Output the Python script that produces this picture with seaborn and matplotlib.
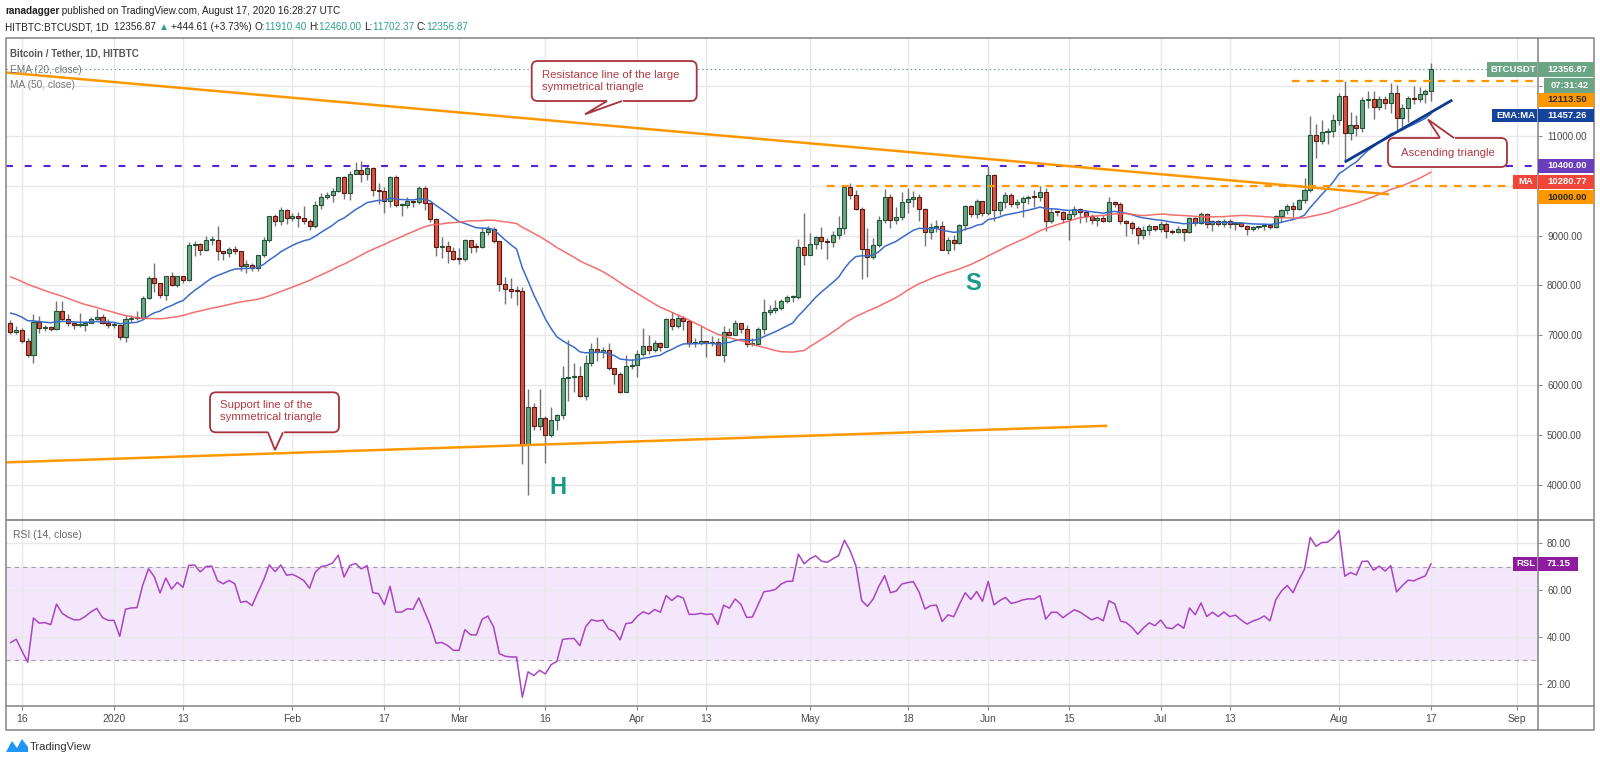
import numpy as np
import pandas as pd
import matplotlib
matplotlib.use("Agg")
import matplotlib.pyplot as plt
from matplotlib.patches import Rectangle, FancyBboxPatch, Polygon
import seaborn as sns

# -----------------------------
# Data: HITBTC BTC/USDT daily candles
# -----------------------------
# closes before the visible window (Oct 26 - Dec 13 2019), only used to warm up EMA / MA / RSI
warmup_close = [9250, 9550, 9250, 9430, 9200, 9150,
                9250, 9310, 9180, 9400, 9310, 9340, 9200, 8770, 8810, 9040,
                8730, 8820, 8760, 8630, 8460, 8490, 8500, 8180, 8120, 8080,
                7620, 7280, 7320, 6910, 7150, 7170, 7510, 7420, 7740, 7570,
                7420, 7320, 7320, 7250, 7450, 7550, 7510, 7540, 7390, 7230, 7220, 7240, 7250]

first_day = "2019-12-14"

close_dec = [7070, 7110, 6880, 6610, 7260, 7150, 7160, 7120, 7490, 7320, 7250, 7200, 7200, 7250, 7320, 7370, 7240, 7200]
high_dec = [7310, 7180, 7140, 6940, 7430, 7380, 7200, 7180, 7680, 7680, 7420, 7270, 7440, 7280, 7360, 7520, 7420, 7320]
low_dec = [7030, 7020, 6850, 6560, 6440, 7050, 7080, 7080, 7100, 7280, 7180, 7130, 7160, 7090, 7240, 7300, 7220, 7150]

close_jan = [7200, 6960, 7330, 7350, 7355, 7750, 8155, 8050, 7810, 8195, 8015, 8195, 8115, 8815, 8830, 8720,
             8910, 8920, 8700, 8650, 8740, 8690, 8400, 8420, 8350, 8610, 8910, 9395, 9290, 9520, 9360]
high_jan = [7260, 7210, 7400, 7400, 7490, 7790, 8200, 8450, 8050, 8200, 8280, 8200, 8200, 8880, 8900, 8850,
            9000, 9000, 9190, 8700, 8770, 8790, 8690, 8520, 8450, 8620, 8970, 9400, 9430, 9580, 9530]
low_jan = [7150, 6900, 6870, 7270, 7310, 7340, 7720, 7870, 7750, 7700, 7980, 7970, 8060, 8100, 8600, 8610,
           8690, 8820, 8520, 8520, 8580, 8630, 8300, 8250, 8290, 8300, 8570, 8880, 9200, 9210, 9230]

close_feb = [9390, 9350, 9300, 9190, 9610, 9785, 9820, 9900, 10170, 9865, 10240, 10320, 10240, 10350, 9920,
             9900, 9700, 10170, 9610, 9610, 9690, 9680, 9950, 9660, 9330, 8775, 8790, 8690, 8530]
high_feb = [9460, 9470, 9600, 9340, 9700, 9850, 9880, 9950, 10180, 10200, 10290, 10490, 10500, 10390, 10380,
            10050, 9970, 10200, 10220, 9660, 9770, 9700, 9990, 10000, 9660, 9360, 8970, 8890, 8780]
low_feb = [9300, 9180, 9230, 9110, 9160, 9540, 9730, 9680, 9870, 9730, 9710, 10230, 10080, 10120, 9800,
           9630, 9450, 9580, 9580, 9400, 9560, 9580, 9640, 9510, 9270, 8600, 8550, 8450, 8520]

close_mar = [8525, 8910, 8770, 8765, 9070, 9140, 8890, 8030, 7925, 7895, 7890, 4790, 5555, 5170, 5340, 5000,
             5290, 5390, 6140, 6170, 6175, 5790, 6450, 6730, 6670, 6710, 6340, 6230, 5860, 6380, 6410]
high_mar = [8750, 8940, 8920, 8850, 9170, 9190, 9180, 8900, 8180, 8150, 7990, 7960, 5930, 5650, 5930, 5370,
            5560, 5410, 6380, 6900, 6440, 6390, 6600, 6840, 6960, 6770, 6850, 6300, 6260, 6600, 6520]
low_mar = [8430, 8500, 8660, 8680, 8750, 9010, 8850, 7880, 7630, 7740, 7600, 4420, 3790, 5090, 5100, 4440,
           4960, 5090, 5320, 5680, 5870, 5760, 5700, 6390, 6480, 6540, 6300, 6020, 5850, 5860, 6330]

close_apr = [6630, 6780, 6710, 6850, 6770, 7320, 7185, 7350, 7290, 6850, 6850, 6880, 6850, 6860, 6610,
             7070, 7000, 7240, 7125, 6820, 6830, 7120, 7475, 7500, 7540, 7690, 7765, 7770, 8775, 8606]
high_apr = [6700, 7150, 7010, 6900, 6860, 7350, 7460, 7420, 7380, 7300, 6950, 7180, 6880, 6980, 6940,
            7190, 7140, 7300, 7240, 7200, 6940, 7160, 7720, 7600, 7700, 7720, 7800, 7800, 8930, 9460]
low_apr = [6160, 6580, 6620, 6670, 6680, 6770, 7100, 7150, 7110, 6770, 6770, 6800, 6560, 6790, 6600,
           6470, 6990, 7010, 7050, 6770, 6790, 6820, 7030, 7400, 7440, 7500, 7650, 7660, 7730, 8420]

close_may = [8835, 8977, 8890, 8870, 9010, 9145, 9987, 9811, 9540, 8734, 8570, 8815, 9306, 9784, 9313, 9380,
             9683, 9744, 9785, 9529, 9070, 9178, 9192, 8720, 8909, 8855, 9212, 9596, 9428, 9697, 9448]
high_may = [9060, 9000, 9180, 8950, 9100, 9400, 9990, 10050, 9910, 9570, 9150, 8950, 9400, 9930, 9830, 9580,
            9880, 9950, 9900, 9830, 9560, 9260, 9320, 9300, 8980, 9020, 9230, 9620, 9610, 9740, 9700]
low_may = [8620, 8740, 8730, 8540, 8770, 8930, 9030, 9730, 9520, 8130, 8180, 8540, 8770, 9260, 9150, 9240,
           9320, 9460, 9580, 9300, 8800, 8940, 9080, 8710, 8640, 8720, 8830, 9110, 9370, 9350, 9400]

close_jun = [10215, 9515, 9683, 9811, 9630, 9680, 9750, 9785, 9780, 9880, 9293, 9480, 9475, 9340, 9440,
             9530, 9475, 9394, 9313, 9360, 9293, 9683, 9630, 9293, 9260, 9160, 9010, 9111, 9192, 9140]
high_jun = [10390, 10240, 9700, 9880, 9850, 9730, 9790, 9810, 9920, 10000, 9960, 9560, 9500, 9490, 9520,
            9590, 9560, 9490, 9440, 9410, 9420, 9780, 9690, 9670, 9320, 9300, 9200, 9190, 9230, 9200]
low_jun = [9420, 9300, 9420, 9560, 9580, 9560, 9380, 9630, 9570, 9700, 9100, 9250, 9400, 9250, 8910,
           9380, 9250, 9280, 9230, 9200, 9270, 9280, 9570, 9240, 9000, 9040, 8830, 8940, 9020, 9090]

close_jul = [9225, 9087, 9073, 9133, 9067, 9353, 9253, 9440, 9233, 9300, 9233, 9300, 9233, 9253, 9187, 9133,
             9167, 9187, 9220, 9167, 9400, 9520, 9600, 9533, 9720, 9920, 11020, 10907, 11087, 11110, 11333]
high_jul = [9290, 9270, 9130, 9190, 9140, 9370, 9370, 9470, 9450, 9310, 9310, 9340, 9340, 9280, 9270, 9210,
            9190, 9200, 9240, 9230, 9420, 9540, 9640, 9670, 9740, 10150, 11400, 11250, 11330, 11170, 11450]
low_jul = [9080, 8950, 9030, 9050, 8900, 9060, 9200, 9230, 9150, 9100, 9190, 9170, 9160, 9110, 9170, 9010,
           9090, 9130, 9110, 9130, 9150, 9280, 9440, 9380, 9520, 9650, 9880, 10560, 10850, 10850, 10980]

close_aug = [11800, 11067, 11213, 11167, 11733, 11750, 11587, 11753, 11667, 11873, 11373, 11573, 11767,
             11753, 11840, 11912.26, 12356.87]
high_aug = [11860, 12110, 11480, 11420, 11780, 11900, 11910, 11800, 11800, 12060, 12030, 11650, 11800,
            12000, 11980, 11940, 12460]
low_aug = [11220, 10480, 10930, 11000, 11080, 11570, 11340, 11530, 11540, 11460, 11130, 11180, 11280,
           11650, 11690, 11660, 11702.37]

# x axis ticks
tick_dates = ["2019-12-16", "2020-01-01", "2020-01-13", "2020-02-01", "2020-02-17", "2020-03-01",
              "2020-03-16", "2020-04-01", "2020-04-13", "2020-05-01", "2020-05-18", "2020-06-01",
              "2020-06-15", "2020-07-01", "2020-07-13", "2020-08-01", "2020-08-17", "2020-09-01"]
tick_labels = ["16", "2020", "13", "Feb", "17", "Mar", "16", "Apr", "13", "May", "18", "Jun",
               "15", "Jul", "13", "Aug", "17", "Sep"]
price_ticks = [4000, 5000, 6000, 7000, 8000, 9000, 10000, 11000, 12000]
rsi_ticks = [20, 40, 60, 80]

# drawings on the chart (days counted from 2020-01-01, price)
resistance_days = [-18.8, 221.7]
resistance_price = [12277, 9831]
support_days = [-18.8, 172.7]
support_price = [4448, 5183]
ascending_days = [214.0, 232.7]
ascending_price = [10480, 11725]
level_neck = 10400
level_range_top = 10000
level_range_top_from = 123.9
level_resist = 12113.5
level_resist_from = 204.8

# -----------------------------
# Build series
# -----------------------------
close = close_dec + close_jan + close_feb + close_mar + close_apr + close_may + close_jun + close_jul + close_aug
high = high_dec + high_jan + high_feb + high_mar + high_apr + high_may + high_jun + high_jul + high_aug
low = low_dec + low_jan + low_feb + low_mar + low_apr + low_may + low_jun + low_jul + low_aug
assert len(close) == len(high) == len(low) == 248

jan1 = pd.Timestamp("2020-01-01")
dates = pd.date_range(first_day, periods=len(close))
day = np.asarray((dates - jan1).days, dtype=float)
tick_days = [(pd.Timestamp(d) - jan1).days for d in tick_dates]

c = np.array(close, dtype=float)
h = np.array(high, dtype=float)
l = np.array(low, dtype=float)
o = np.r_[warmup_close[-1], c[:-1]]

n0 = len(warmup_close)
all_close = pd.Series(warmup_close + close, dtype=float)
ema20 = all_close.ewm(span=20, adjust=False).mean().values[n0:]
ma50 = all_close.rolling(50).mean().values[n0:]
delta = all_close.diff()
gain = delta.clip(lower=0).ewm(alpha=1 / 14, adjust=False).mean()
loss = (-delta.clip(upper=0)).ewm(alpha=1 / 14, adjust=False).mean()
rsi = (100 - 100 / (1 + gain / loss)).values[n0:]

# -----------------------------
# Style
# -----------------------------
sns.set_style("white")
plt.rcParams['font.family'] = ['Liberation Sans', 'DejaVu Sans']
plt.rcParams['lines.scale_dashes'] = False
NARROW = ['Liberation Sans Narrow', 'Liberation Sans', 'DejaVu Sans']

UP, DOWN = '#6ba583', '#d75442'
UP_EDGE, DOWN_EDGE = '#225437', '#5b1a13'
WICK = '#737375'
GRID = '#e8e8e8'
FRAME = '#8c8c8c'
TEAL = '#2e9e8f'
CALL = '#a8323c'
CALL_TXT = '#b23a42'

W, H = 1600, 763
fig = plt.figure(figsize=(16, 7.63), dpi=100)
fig.patch.set_facecolor('white')

x_left, x_right = 6, 1538
ax = fig.add_axes([x_left / W, 1 - 520 / H, (x_right - x_left) / W, (520 - 38) / H])
ax2 = fig.add_axes([x_left / W, 1 - 706 / H, (x_right - x_left) / W, (706 - 520) / H], sharex=ax)

# -----------------------------
# Price pane
# -----------------------------
up = c >= o
body_lo = np.minimum(o, c)
body_h = np.maximum(np.abs(c - o), 22)
ax.vlines(day, l, h, color=WICK, lw=1, zorder=2)
ax.bar(day[up], body_h[up], bottom=body_lo[up], width=0.7, color=UP,
       edgecolor=UP_EDGE, linewidth=0.8, zorder=3)
ax.bar(day[~up], body_h[~up], bottom=body_lo[~up], width=0.7, color=DOWN,
       edgecolor=DOWN_EDGE, linewidth=0.8, zorder=3)

sns.lineplot(x=day, y=ema20, ax=ax, color='#3c6cc8', linewidth=1.1, zorder=4)
sns.lineplot(x=day, y=ma50, ax=ax, color='#f26060', linewidth=1.1, alpha=0.9, zorder=4)

xmin, xmax = -18.78, 247.6
ax.axhline(close[-1], color='#5f9e7c', ls=(0, (1, 2)), lw=0.8, zorder=1)
ax.plot([xmin, xmax], [level_neck] * 2, color='#5524d0', lw=1.5, ls=(0, (5, 8.5)), zorder=5)
ax.plot([level_range_top_from, xmax], [level_range_top] * 2, color='#ff9800', lw=1.6,
        ls=(0, (5.5, 5)), zorder=5)
ax.plot([level_resist_from, xmax], [level_resist] * 2, color='#ff9800', lw=1.6,
        ls=(0, (5.5, 5)), zorder=5)
ax.plot(resistance_days, resistance_price, color='#ff9800', lw=1.8, zorder=5, solid_capstyle='butt')
ax.plot(support_days, support_price, color='#ff9800', lw=1.8, zorder=5, solid_capstyle='butt')
ax.plot(ascending_days, ascending_price, color='#0c3a8c', lw=2, zorder=6, solid_capstyle='butt')

ax.set_xlim(xmin, xmax)
ax.set_ylim(3291, 12970)
ax.yaxis.tick_right()
ax.set_yticks(price_ticks)
ax.set_yticklabels(['' if v in (10000, 12000) else f"{v:.2f}" for v in price_ticks])
ax.tick_params(axis='y', length=3, width=0.8, color=FRAME, pad=3.5, labelsize=7,
               labelcolor='#4a4a4a', right=True, left=False)
ax.tick_params(axis='x', bottom=False, labelbottom=False)
ax.grid(True, color=GRID, lw=1)
ax.set_axisbelow(True)
for s in ax.spines.values():
    s.set_visible(False)
ax.set_xlabel('')
ax.set_ylabel('')

# -----------------------------
# RSI pane
# -----------------------------
ax2.axhspan(30, 70, color='#f4e7fc', zorder=0)
ax2.axhline(70, color='#a0a0a0', lw=0.8, ls=(0, (3, 3)), zorder=1)
ax2.axhline(30, color='#a0a0a0', lw=0.8, ls=(0, (3, 3)), zorder=1)
sns.lineplot(x=day, y=rsi, ax=ax2, color='#a945c2', linewidth=1.1, zorder=3)
ax2.set_ylim(10.6, 89.8)
ax2.yaxis.tick_right()
ax2.set_yticks(rsi_ticks)
ax2.set_yticklabels([f"{v:.2f}" for v in rsi_ticks])
ax2.tick_params(axis='y', length=3, width=0.8, color=FRAME, pad=3.5, labelsize=7,
                labelcolor='#4a4a4a', right=True, left=False)
ax2.set_xticks(tick_days)
ax2.set_xticklabels(tick_labels, fontfamily=NARROW)
ax2.tick_params(axis='x', length=3, width=0.8, color=FRAME, pad=3, labelsize=7.5,
                labelcolor='#4a4a4a', bottom=True)
ax2.grid(True, color=GRID, lw=1)
ax2.set_axisbelow(True)
for s in ax2.spines.values():
    s.set_visible(False)
ax2.set_xlim(xmin, xmax)
ax2.set_xlabel('')
ax2.set_ylabel('')

# -----------------------------
# Overlay in pixel coordinates: frame, texts, tags, callouts
# -----------------------------
ov = fig.add_axes([0, 0, 1, 1], zorder=10)
ov.patch.set_alpha(0)
ov.set_xlim(0, W)
ov.set_ylim(H, 0)
ov.axis('off')

# frame
ov.add_patch(Rectangle((6, 38), 1594 - 6, 730 - 38, fill=False, ec=FRAME, lw=1.2))
ov.plot([1538, 1538], [38, 730], color=FRAME, lw=1.2)
ov.plot([6, 1594], [520, 520], color=FRAME, lw=1.4)
ov.plot([6, 1594], [706, 706], color=FRAME, lw=1.2)

renderer = fig.canvas.get_renderer()


def text_run(x, y, pieces, size):
    for s, col, weight in pieces:
        t = ov.text(x, y, s, color=col, fontsize=size, fontweight=weight, va='center',
                    ha='left', family=NARROW)
        x += t.get_window_extent(renderer).width


DARK = '#222222'
text_run(5, 11, [("ranadagger", DARK, 'bold'),
                 (" published on TradingView.com, August 17, 2020 16:28:27 UTC", DARK, 'normal')], 7.2)
text_run(5, 27, [("HITBTC:BTCUSDT, 1D  ", DARK, 'normal'), ("12356.87 ", DARK, 'normal'),
                 ("\u25b2 ", TEAL, 'normal'), ("+444.61 (+3.73%) ", DARK, 'normal'),
                 ("O:", DARK, 'normal'), ("11910.40 ", TEAL, 'normal'),
                 ("H:", DARK, 'normal'), ("12460.00 ", TEAL, 'normal'),
                 ("L:", DARK, 'normal'), ("11702.37 ", TEAL, 'normal'),
                 ("C:", DARK, 'normal'), ("12356.87", TEAL, 'normal')], 7.2)

ov.text(10, 54, "Bitcoin / Tether, 1D, HITBTC", color='#555555', fontsize=7,
        fontweight='bold', va='center', family=NARROW)
ov.text(10, 70, "EMA (20, close)", color='#777777', fontsize=7.3, va='center', family=NARROW)
ov.text(10, 85, "MA (50, close)", color='#777777', fontsize=7.3, va='center', family=NARROW)
ov.text(13, 535, "RSI (14, close)", color='#666666', fontsize=7.5, va='center', family=NARROW)

# right-hand tags
tags = [("BTCUSDT", 1487, 1537, 62, 77, '#6ba583', 'white'),
        ("12356.87", 1538, 1594, 62, 77, '#6ba583', 'white'),
        ("07:31:42", 1544, 1594, 78, 92.5, '#6ba583', 'white'),
        ("12113.50", 1538, 1594, 93.3, 106.7, '#ff9800', '#2b2b2b'),
        ("EMA:MA", 1492, 1537, 109, 122.3, '#15449c', 'white'),
        ("11457.26", 1538, 1594, 109, 122.3, '#15449c', 'white'),
        ("10400.00", 1538, 1594, 159.3, 172.7, '#6a3dbd', 'white'),
        ("MA", 1513, 1537, 174.7, 189.3, '#f0453a', 'white'),
        ("10280.77", 1538, 1594, 174.7, 189.3, '#f0453a', 'white'),
        ("10000.00", 1538, 1594, 190, 204.3, '#ff9800', '#2b2b2b'),
        ("RSL", 1513, 1537, 557, 571, '#8e1c9e', 'white'),
        ("71.15", 1538, 1578, 557, 571, '#8e1c9e', 'white')]
for s, x0, x1, y0, y1, fc, tc in tags:
    ov.add_patch(Rectangle((x0, y0), x1 - x0, y1 - y0, fc=fc, ec='none', zorder=15))
    ov.text((x0 + x1) / 2 + 1, (y0 + y1) / 2, s, color=tc, fontsize=6.8, fontweight='bold',
            ha='center', va='center', zorder=16)


def callout(x0, y0, x1, y1, by, bx0, bx1, tip, lines, tx, ty, ha='left'):
    ov.add_patch(FancyBboxPatch((x0, y0), x1 - x0, y1 - y0,
                                boxstyle="round,pad=0,rounding_size=6",
                                fc='white', ec=CALL, lw=1.3, zorder=20))
    ov.plot([bx0 + 1, bx1 - 1], [by, by], color='white', lw=2.5, zorder=21)
    ov.add_patch(Polygon([(bx0, by), tip, (bx1, by)], closed=False, fc='white', ec=CALL,
                         lw=1.3, zorder=22))
    for i, s in enumerate(lines):
        ov.text(tx, ty + i * 12, s, color=CALL_TXT, fontsize=8.2, ha=ha, va='center', zorder=23)


callout(531.7, 61, 696.7, 101, 101, 607, 622, (585, 114.3),
        ["Resistance line of the large", "symmetrical triangle"], 541.5, 74.5)
callout(210, 392.3, 339, 432.3, 432.3, 268, 283, (275, 450),
        ["Support line of the", "symmetrical triangle"], 220, 405.5)
callout(1388, 138, 1507, 167, 138, 1440, 1454, (1428, 119.5),
        ["Ascending triangle"], 1447.5, 152.5, ha='center')

# pattern letters
ov.text(558, 487, "H", color='#149a86', fontsize=17, fontweight='bold', ha='center', va='center')
ov.text(973, 283, "S", color='#149a86', fontsize=17, fontweight='bold', ha='center', va='center')

# footer
ov.add_patch(Polygon([(6, 752), (12, 741), (17, 748), (22, 739), (28, 747), (28, 752)],
                     closed=True, fc='#2196f3', ec='none'))
ov.text(30, 747, "TradingView", color='#333333', fontsize=8, va='center', family=NARROW)

fig.savefig("out.png", dpi=100, facecolor='white')
